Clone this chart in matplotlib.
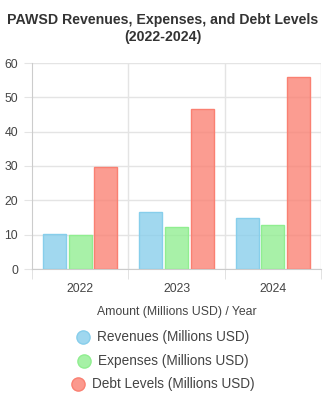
import numpy as np
import matplotlib.pyplot as plt
from matplotlib.lines import Line2D

plt.rcParams['font.family'] = ['Liberation Sans', 'DejaVu Sans']

years = ['2022', '2023', '2024']
revenues = [10.3, 16.6, 14.8]
expenses = [10.0, 12.1, 12.7]
debt = [29.8, 46.6, 56.0]

series = [
    ('Revenues (Millions USD)', revenues, (135/255, 206/255, 235/255)),
    ('Expenses (Millions USD)', expenses, (144/255, 238/255, 144/255)),
    ('Debt Levels (Millions USD)', debt, (250/255, 128/255, 114/255)),
]

W, H = 326, 408
fig = plt.figure(figsize=(W / 100, H / 100), dpi=100)
ax = fig.add_axes([32 / W, 1 - 269 / H, (321 - 32) / W, (269 - 63) / H])

x = np.arange(len(years))
slot = 0.8 / 3
bw = slot * 0.9
for i, (name, vals, col) in enumerate(series):
    ax.bar(x + (i - 1) * slot, vals, width=bw, color=col + (0.78,),
           edgecolor=col, linewidth=1, zorder=3)

ax.set_xlim(-0.5, 2.5)
ax.set_ylim(0, 60)
ax.set_yticks(range(0, 61, 10))
ax.set_xticks(x)
ax.set_xticklabels(years)
# separators between the years
ax.set_xticks([-0.5, 0.5, 1.5, 2.5], minor=True)
ax.grid(True, axis='y', color='#e4e4e4', linewidth=1, zorder=0)
for b in [0.5, 1.5, 2.5]:
    ax.axvline(b, color='#e4e4e4', linewidth=1, zorder=0)
ax.tick_params(axis='x', which='major', length=0, labelsize=8.8, colors='#444', pad=10)
ax.tick_params(axis='x', which='minor', length=7, color='#dddddd')
ax.tick_params(axis='y', length=6, color='#e4e4e4', labelsize=8.8, labelcolor='#444', pad=4)
for s in ['top', 'right']:
    ax.spines[s].set_visible(False)
for s in ['left', 'bottom']:
    ax.spines[s].set_color('#cccccc')
ax.set_xlabel('Amount (Millions USD) / Year', fontsize=8.8, color='#444', labelpad=8)

fig.text(0.5, 1 - 20 / H, 'PAWSD Revenues, Expenses, and Debt Levels',
         ha='center', va='center', fontsize=10.2, fontweight='bold', color='#333')
fig.text(0.5, 1 - 37 / H, '(2022-2024)',
         ha='center', va='center', fontsize=10.2, fontweight='bold', color='#333')

# legend, each entry centered
fig.canvas.draw()
r = fig.canvas.get_renderer()
for k, (name, vals, col) in enumerate(series):
    yy = 1 - (337 + k * 23.5) / H
    t = fig.text(0.5, yy, name, ha='left', va='center', fontsize=9.8, color='#444')
    tw = t.get_window_extent(renderer=r).width
    total = tw + 20
    left = 163 - total / 2
    t.set_x((left + 20) / W)
    fig.add_artist(Line2D([(left + 6) / W], [yy], marker='o', markersize=9.5,
                          markerfacecolor=col + (0.8,), markeredgecolor=col,
                          transform=fig.transFigure, linestyle=''))

fig.savefig('out.png', dpi=100)
